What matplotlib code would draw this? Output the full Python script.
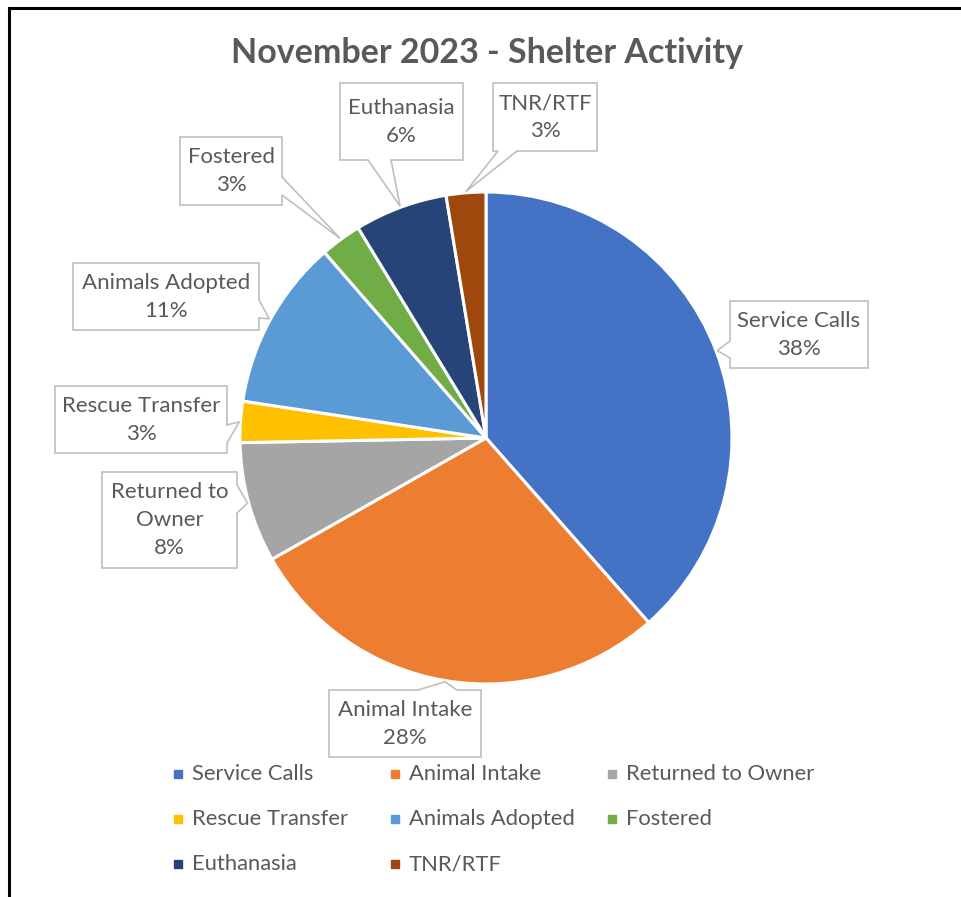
import numpy as np
import matplotlib.pyplot as plt
from matplotlib.patches import Polygon

# share of each activity (percent)
categories = ["Service Calls", "Animal Intake", "Returned to Owner", "Rescue Transfer",
              "Animals Adopted", "Fostered", "Euthanasia", "TNR/RTF"]
shares = [38.5, 28.3, 7.9, 2.7, 11.2, 2.7, 6.1, 2.6]
colors = ["#4472C4", "#ED7D31", "#A5A5A5", "#FFC000",
          "#5B9BD5", "#70AD47", "#264478", "#9E480E"]
# text shown in the callouts (label wraps as in the original)
callout_names = ["Service Calls", "Animal Intake", "Returned to\nOwner", "Rescue Transfer",
                 "Animals Adopted", "Fostered", "Euthanasia", "TNR/RTF"]

W, H = 961, 897
CX, CY, R = 486, 438, 246   # pie centre / radius in screen pixels (y down)
TEXT = "#595959"
FONT = "Lato"

# callout boxes: (left, top, right, bottom), side of pointer, pointer base span
boxes = [
    ((730, 301, 868, 368), "left", (341, 358)),
    ((329, 690, 481, 757), "top", (418, 457)),
    ((102, 472, 237, 568), "right", (485, 513)),
    ((55, 386, 227, 453), "right", (425, 443)),
    ((73, 263, 259, 330), "right", (300, 318)),
    ((180, 137, 282, 205), "right", (177, 195)),
    ((340, 83, 463, 160), "bottom", (368, 391)),
    ((493, 83, 597, 151), "bottom", (498, 517)),
]


def Y(y):
    return H - y


def callout(ax, box, side, base, tip, text):
    x0, y0, x1, y1 = box
    b0, b1 = base
    pts = [(x0, y0)]
    if side == "top":
        pts += [(b0, y0), "tip", (b1, y0)]
    pts.append((x1, y0))
    if side == "right":
        pts += [(x1, b0), "tip", (x1, b1)]
    pts.append((x1, y1))
    if side == "bottom":
        pts += [(b1, y1), "tip", (b0, y1)]
    pts.append((x0, y1))
    if side == "left":
        pts += [(x0, b1), "tip", (x0, b0)]
    verts = [tip if p == "tip" else (p[0], Y(p[1])) for p in pts]
    ax.add_patch(Polygon(verts, closed=True, facecolor="white",
                         edgecolor="#BFBFBF", linewidth=1.2, zorder=3))
    ax.text((x0 + x1) / 2, Y((y0 + y1) / 2), text, ha="center", va="center",
            fontsize=16, color=TEXT, family=FONT, linespacing=1.5, zorder=4)


fig = plt.figure(figsize=(W / 100, H / 100), dpi=100)
ax = fig.add_axes([0, 0, 1, 1])

ax.pie(shares, colors=colors, startangle=90, counterclock=False,
       center=(CX, Y(CY)), radius=R,
       wedgeprops=dict(edgecolor="white", linewidth=2.2))
ax.set_xlim(0, W)
ax.set_ylim(0, H)
ax.set_aspect("equal")
ax.axis("off")

# callouts point at the middle of each slice
total = sum(shares)
cum = np.cumsum(shares)
for i, v in enumerate(shares):
    mid = 360 * (cum[i] - v / 2) / total
    ang = np.deg2rad(90 - mid)
    tip = (CX + R * 1.005 * np.cos(ang), Y(CY) + R * 1.005 * np.sin(ang))
    pct = f"{round(100 * v / total)}%"
    box, side, base = boxes[i]
    callout(ax, box, side, base, tip, callout_names[i] + "\n" + pct)

ax.text(487, Y(53), "November 2023 - Shelter Activity", ha="center", va="center",
        fontsize=24.5, fontweight="bold", color=TEXT, family=FONT)

# legend laid out in three fixed columns, like the original
for i, (name, c) in enumerate(zip(categories, colors)):
    lx = 178 + 217 * (i % 3)
    ly = 774 + 45 * (i // 3)
    ax.plot(lx, Y(ly), marker="s", markersize=6, color=c, linestyle="none")
    ax.text(lx + 14, Y(ly), name, ha="left", va="center",
            fontsize=15.8, color=TEXT, family=FONT)

# frame lines of the screenshot
ax.plot([8.5, 8.5, W], [0, Y(8), Y(8)], color="black", linewidth=2.2,
        solid_joinstyle="miter", clip_on=False)

fig.savefig("out.png", dpi=100)
